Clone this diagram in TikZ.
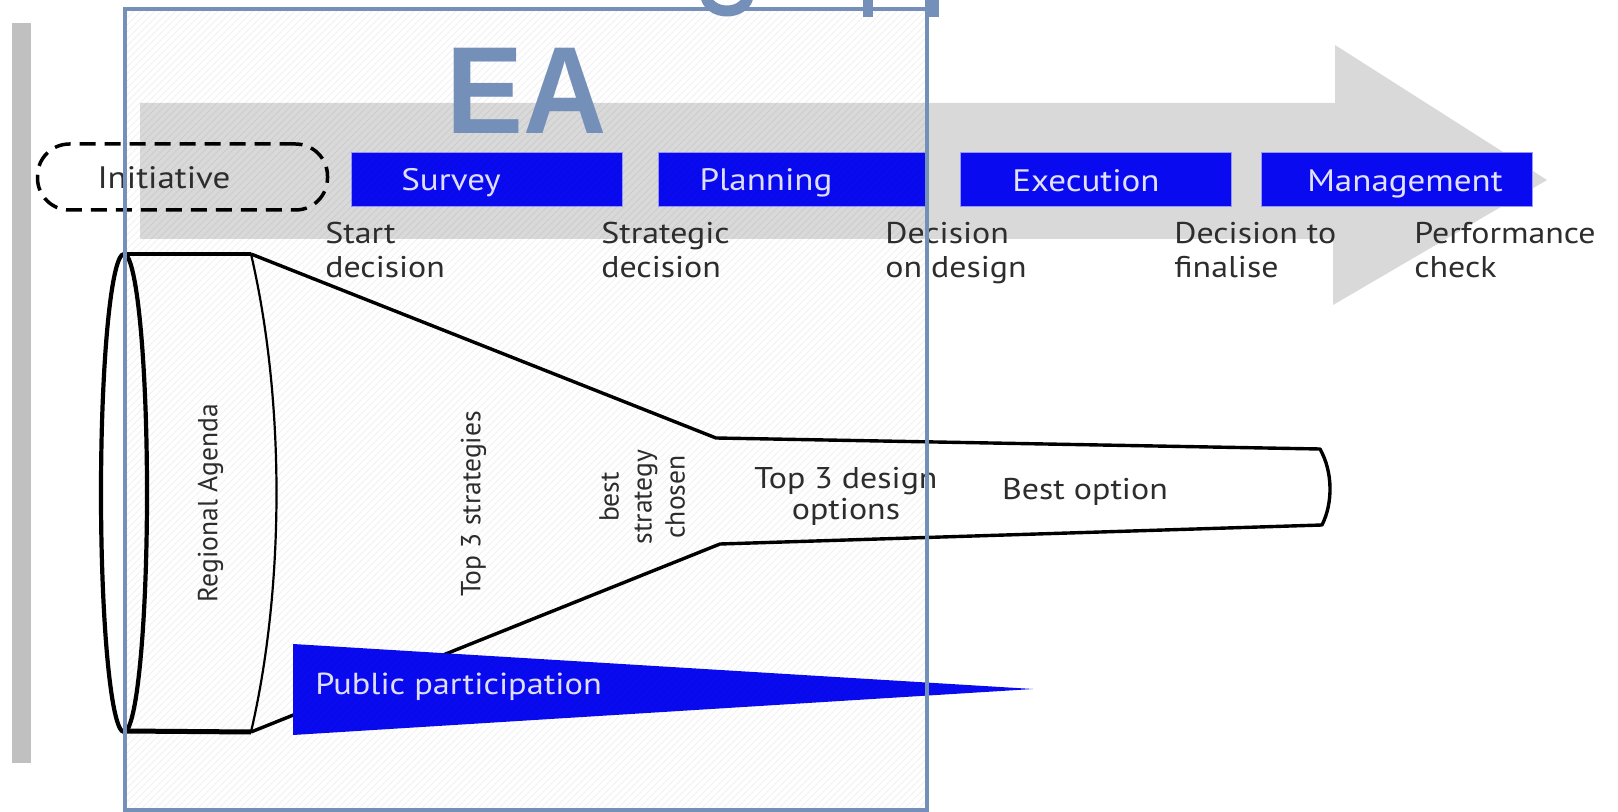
\documentclass[tikz,border=0pt]{standalone}
\usepackage{fontspec}
\setmainfont{PT Sans}[FakeStretch=1.13]
\newfontfamily\rotfont{PT Sans}
\newfontfamily\eafont{Liberation Sans}[FakeStretch=0.93]
\definecolor{phaseblue}{RGB}{10,10,240}
\definecolor{phaseedge}{RGB}{150,150,255}
\definecolor{phasetext}{RGB}{225,225,255}
\definecolor{arrowgray}{RGB}{217,217,217}
\definecolor{bargray}{RGB}{192,192,192}
\definecolor{slate}{RGB}{117,144,184}
\definecolor{txt}{RGB}{45,45,45}
\begin{document}
\begin{tikzpicture}[x=0.5pt,y=-0.5pt,
  phasebox/.style={fill=phaseblue, draw=phaseedge, line width=0.6pt, minimum height=27pt, inner sep=0pt, anchor=north west},
  phaselabel/.style={text=phasetext, font=\fontsize{15.5}{17}\selectfont, inner sep=0pt, anchor=base},
  declabel/.style={text=txt, font=\fontsize{15}{17}\selectfont, inner sep=0pt, anchor=north west, align=left},
  funneltext/.style={text=txt, inner sep=0pt},
  rottext/.style={text=txt, inner sep=0pt, rotate=90, font=\rotfont\fontsize{13.8}{16.5}\selectfont, align=center},
  outline/.style={draw=black, line width=1.7pt, line join=round},
  hatch/.style={draw=black, opacity=0.06, line width=0.5pt},
  overlay/.style={draw=slate, line width=2pt}
]
\useasboundingbox[fill=white] (0,0) rectangle (1618,812);

% left grey bar
\fill[bargray] (12,23) rectangle (31,763);

% big grey process arrow
\fill[arrowgray] (140,103) -- (1335,103) -- (1335,45) -- (1547,180) -- (1333,305) -- (1333,239) -- (140,239) -- cycle;

% initiative
\node[draw=black, dashed, dash pattern=on 8pt off 4.5pt, line width=1.75pt, rounded corners=16pt,
      minimum width=145pt, minimum height=33pt, inner sep=0pt] (init) at (182.5,177) {};
\node[text=txt, font=\fontsize{15.5}{17}\selectfont, inner sep=0pt, anchor=base] (initlbl) at (164,189) {Initiative};

% phase boxes
\node[phasebox, minimum width=135.5pt] (survey) at (351,152) {};
\node[phasebox, minimum width=135pt] (planning) at (658,152) {};
\node[phasebox, minimum width=135.5pt] (execution) at (960,152) {};
\node[phasebox, minimum width=135.5pt] (management) at (1261,152) {};
\node[phaselabel] (surveylbl) at (451,191) {Survey};
\node[phaselabel] (planninglbl) at (766,191) {Planning};
\node[phaselabel] (executionlbl) at (1086,192) {Execution};
\node[phaselabel] (managementlbl) at (1405,192) {Management};

% decision labels
\node[declabel] (d1) at (325,219) {\strut Start\\decision};
\node[declabel] (d2) at (601,219) {\strut Strategic\\decision};
\node[declabel] (d3) at (885,219) {\strut Decision\\on design};
\node[declabel] (d4) at (1174,219) {\strut Decision to\\finalise};
\node[declabel] (d5) at (1414,219) {\strut Performance\\check};

% funnel
\coordinate (ctop) at (251,254);
\coordinate (cbot) at (251,732);
\coordinate (ftop) at (716,438);
\coordinate (fbot) at (720,544);
\coordinate (etop) at (1320,449);
\coordinate (ebot) at (1322,525);
\draw[outline] (ctop) -- (ftop) -- (etop) .. controls (1333,472) and (1333,503) .. (ebot) -- (fbot) -- (cbot);
\draw[black, line width=2pt] (124,254) -- (ctop);
\draw[black, line width=2.5pt] (124,731) -- (cbot);
\draw[black, line width=1.1pt] (ctop) .. controls (285,400) and (285,586) .. (cbot);
\draw[black, line width=2.1pt] (124,493) ellipse [x radius=23, y radius=239];

% public participation wedge
\fill[phaseblue] (293,644) -- (1033,689) -- (293,735) -- cycle;
\node[text=phasetext, font=\fontsize{15.2}{17}\selectfont, inner sep=0pt, anchor=base west] (pp) at (315,694) {Public participation};

% funnel texts
\node[rottext] (ra) at (210.5,503) {Regional Agenda};
\node[rottext] (t3s) at (473.5,504) {Top 3 strategies};
\node[rottext] (bsc) at (645,497) {\strut best\\strategy\\chosen\strut};
\node[funneltext, font={\fontsize{15}{13.5}\selectfont}, align=center, anchor=north] (t3d) at (846,467) {\strut Top 3 design\\options};
\node[funneltext, font=\fontsize{15}{17}\selectfont, anchor=base] (best) at (1085,500) {Best option};

% translucent hatched overlay
\begin{scope}
  \clip (125,9) rectangle (927,810);
  \foreach \i in {-700,-693,...,930} {\draw[hatch] (\i,810) -- ++(801,-801);}
\end{scope}
\draw[overlay] (125,9) rectangle (927,810);
\node[text=slate, font=\eafont\bfseries\fontsize{62}{62}\selectfont, inner sep=0pt, anchor=base] (ea) at (527,134) {EA};

% cut-off title fragments at the top edge
\begin{scope}
  \clip (0,0) rectangle (1618,19);
  \draw[slate, line width=5.5pt] (727,-5) ellipse [x radius=21, y radius=16];
\end{scope}
\fill[slate] (863,0) rectangle (873,17);
\fill[slate] (925,0) rectangle (939,17);
\end{tikzpicture}
\end{document}
